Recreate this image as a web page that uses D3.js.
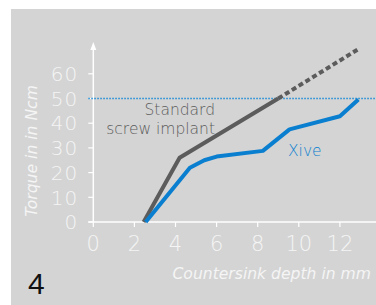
<!DOCTYPE html>
<html>
<head>
<meta charset="utf-8">
<script src="https://cdn.jsdelivr.net/npm/d3@7"></script>
<style>
  body { margin: 0; background: #fff; }
  svg { display: block; }
  .tick-label { fill: #f5f5f5; font-family: "DejaVu Sans", sans-serif; font-weight: 200; }
  .axis-title { fill: #f5f5f5; font-family: "DejaVu Sans", sans-serif; font-weight: 200; font-style: italic; font-size: 15.6px; }
</style>
</head>
<body>
<div id="chart"></div>
<script>
// data (depth in mm, torque in Ncm)
var xTicks = [0, 2, 4, 6, 8, 10, 12];
var yTicks = [0, 10, 20, 30, 40, 50, 60];
var standardSolid = [[2.45, 0], [4.2, 26], [9.0, 50]];
var standardDashed = [[9.0, 50], [12.9, 70]];
var xive = [[2.55, 0], [4.7, 22], [5.4, 25], [6.0, 26.5], [8.25, 28.8], [9.55, 37.5], [12.0, 42.8], [12.9, 49.6]];
var limitTorque = 50;

var width = 376, height = 305;
var svg = d3.select("#chart").append("svg")
  .attr("width", width)
  .attr("height", height);

// grey panel
svg.append("rect")
  .attr("x", 11).attr("y", 9)
  .attr("width", width - 11).attr("height", height - 9)
  .attr("fill", "#d4d4d4");

var xScale = d3.scaleLinear().domain([0, 14]).range([93.3, 93.3 + 14 * 20.55]);
var yScale = d3.scaleLinear().domain([0, 60]).range([222, 73.8]);

var g = svg.append("g");

// y axis with arrow
g.append("line")
  .attr("x1", xScale(0)).attr("x2", xScale(0))
  .attr("y1", yScale(0)).attr("y2", 46)
  .attr("stroke", "#fff").attr("stroke-width", 1.5);
g.append("path")
  .attr("d", "M" + (xScale(0) - 3) + ",50 L" + xScale(0) + ",42 L" + (xScale(0) + 3) + ",50 Z")
  .attr("fill", "#fff");

// x axis line
g.append("line")
  .attr("x1", xScale(0) - 5).attr("x2", width)
  .attr("y1", yScale(0)).attr("y2", yScale(0))
  .attr("stroke", "#fff").attr("stroke-width", 1.5);

// y ticks
yTicks.forEach(function(t) {
  g.append("line")
    .attr("x1", xScale(0) - 5).attr("x2", xScale(0))
    .attr("y1", yScale(t)).attr("y2", yScale(t))
    .attr("stroke", "#fff").attr("stroke-width", 1.2);
  g.append("text")
    .attr("class", "tick-label")
    .attr("x", xScale(0) - 15)
    .attr("y", yScale(t))
    .attr("dy", "0.36em")
    .attr("text-anchor", "end")
    .style("font-size", "20px")
    .style("letter-spacing", "1px")
    .text(t);
});

// x ticks
xTicks.forEach(function(t) {
  g.append("line")
    .attr("x1", xScale(t)).attr("x2", xScale(t))
    .attr("y1", yScale(0)).attr("y2", yScale(0) + 5)
    .attr("stroke", "#fff").attr("stroke-width", 1.2);
  g.append("text")
    .attr("class", "tick-label")
    .attr("x", xScale(t))
    .attr("y", 243)
    .attr("dy", "0.36em")
    .attr("text-anchor", "middle")
    .style("font-size", "21px")
    .text(t);
});

// axis titles
g.append("text")
  .attr("class", "axis-title")
  .attr("transform", "translate(31," + ((85 + 217) / 2) + ") rotate(-90)")
  .attr("dy", "0.36em")
  .attr("text-anchor", "middle")
  .text("Torque in in Ncm");
g.append("text")
  .attr("class", "axis-title")
  .attr("x", 371).attr("y", 273)
  .attr("dy", "0.36em")
  .attr("text-anchor", "end")
  .text("Countersink depth in mm");

// 50 Ncm dotted reference line
g.append("line")
  .attr("x1", xScale(0) - 5).attr("x2", width)
  .attr("y1", yScale(limitTorque)).attr("y2", yScale(limitTorque))
  .attr("stroke", "#1a8ad8").attr("stroke-width", 1.5)
  .attr("stroke-dasharray", "1.5,1.5");

var line = d3.line()
  .x(function(d) { return xScale(d[0]); })
  .y(function(d) { return yScale(d[1]); });

g.append("path")
  .datum(standardSolid)
  .attr("d", line)
  .attr("fill", "none")
  .attr("stroke", "#5c5c5c")
  .attr("stroke-width", 4);
g.append("path")
  .datum(standardDashed)
  .attr("d", line)
  .attr("fill", "none")
  .attr("stroke", "#5c5c5c")
  .attr("stroke-width", 4)
  .attr("stroke-dasharray", "5,3");
g.append("path")
  .datum(xive)
  .attr("d", line)
  .attr("fill", "none")
  .attr("stroke", "#0a7fd0")
  .attr("stroke-width", 4)
  .attr("stroke-linejoin", "round");

// series labels
g.append("text")
  .attr("x", 215).attr("y", 109).attr("dy", "0.36em")
  .attr("text-anchor", "end")
  .style("font-family", "DejaVu Sans").style("font-weight", 300).style("font-size", "15.5px")
  .attr("fill", "#5c5c5c")
  .text("Standard");
g.append("text")
  .attr("x", 215).attr("y", 128).attr("dy", "0.36em")
  .attr("text-anchor", "end")
  .style("font-family", "DejaVu Sans").style("font-weight", 300).style("font-size", "15.5px")
  .attr("fill", "#5c5c5c")
  .text("screw implant");
g.append("text")
  .attr("x", 288).attr("y", 150).attr("dy", "0.36em")
  .style("font-family", "DejaVu Sans").style("font-weight", 300).style("font-size", "15.5px")
  .attr("fill", "#0a7fd0")
  .text("Xive");

// panel number
svg.append("text")
  .attr("x", 28).attr("y", 294)
  .style("font-family", "Liberation Sans").style("font-size", "30px")
  .attr("fill", "#111")
  .text("4");
</script>
</body>
</html>
